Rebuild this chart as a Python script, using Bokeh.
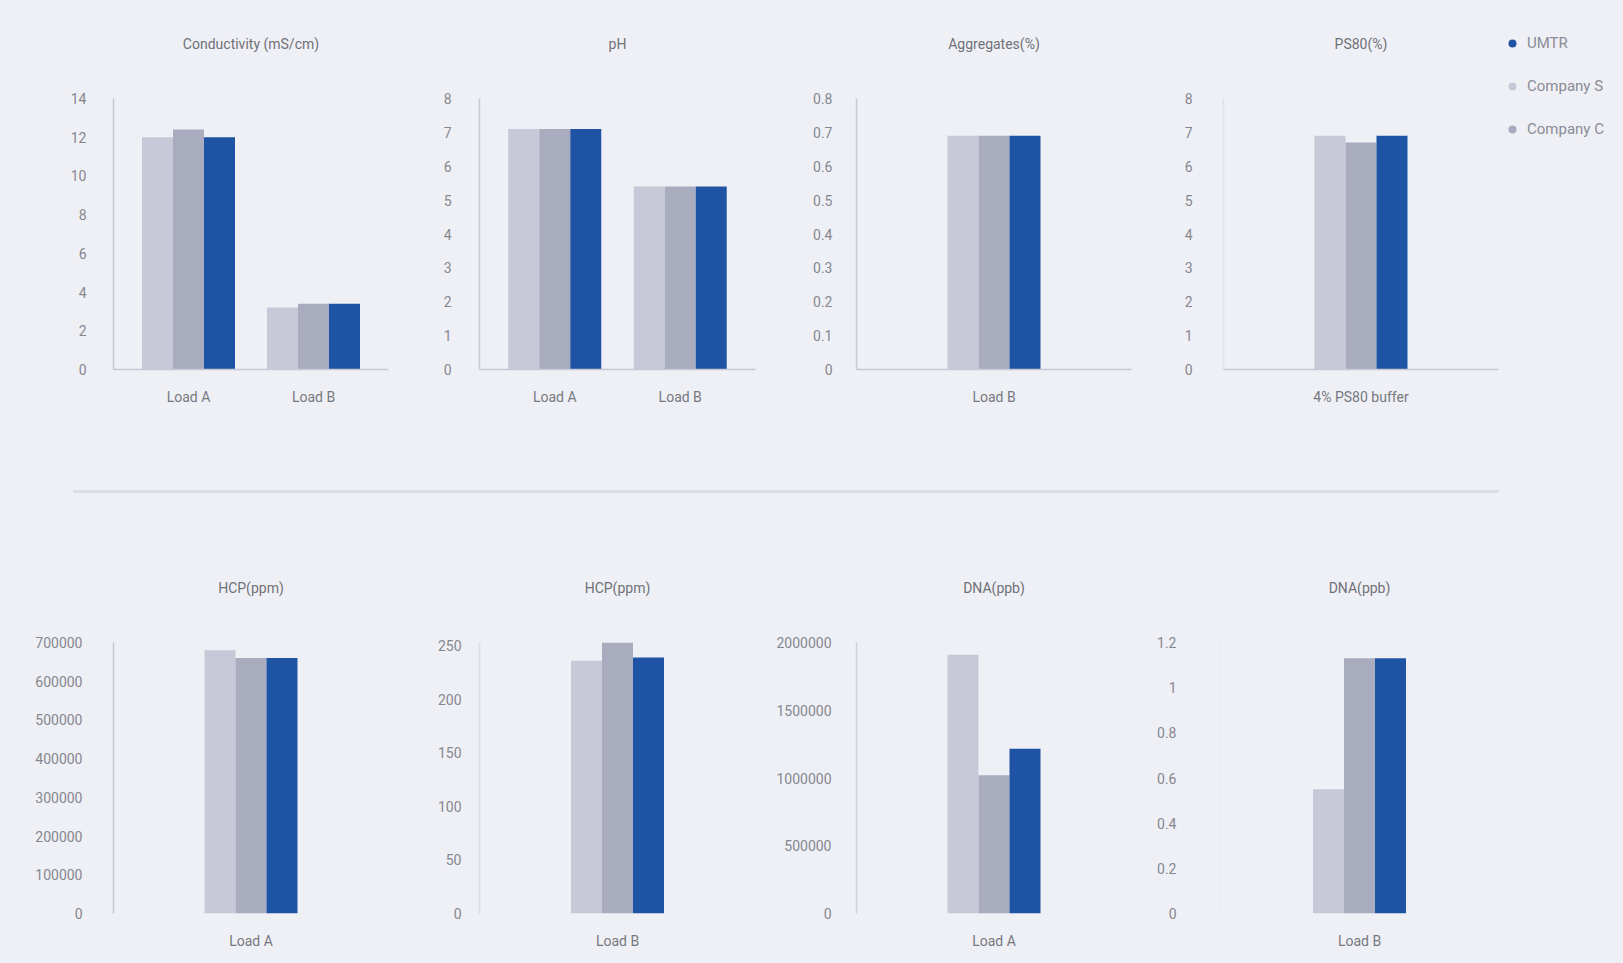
from bokeh.plotting import figure
from bokeh.models import (FactorRange, Range1d, FixedTicker, Legend, LegendItem, Div,
                          LinearAxis, Spacer)
from bokeh.transform import dodge
from bokeh.layouts import row, column
from bokeh.embed import file_html
from bokeh.resources import INLINE

# ---------------- data ----------------
series_names = ["Company S", "Company C", "UMTR"]

cond_title = "Conductivity (mS/cm)"
cond_cats = ["Load A", "Load B"]
cond_s = [12.0, 3.2]
cond_c = [12.4, 3.4]
cond_u = [12.0, 3.4]
cond_ticks = [0, 2, 4, 6, 8, 10, 12, 14]
cond_labels = ["0", "2", "4", "6", "8", "10", "12", "14"]

ph_title = "pH"
ph_cats = ["Load A", "Load B"]
ph_s = [7.1, 5.4]
ph_c = [7.1, 5.4]
ph_u = [7.1, 5.4]
ph_ticks = [0, 1, 2, 3, 4, 5, 6, 7, 8]
ph_labels = ["0", "1", "2", "3", "4", "5", "6", "7", "8"]

agg_title = "Aggregates(%)"
agg_cats = ["Load B"]
agg_s = [0.69]
agg_c = [0.69]
agg_u = [0.69]
agg_ticks = [0, 0.1, 0.2, 0.3, 0.4, 0.5, 0.6, 0.7, 0.8]
agg_labels = ["0", "0.1", "0.2", "0.3", "0.4", "0.5", "0.6", "0.7", "0.8"]

ps80_title = "PS80(%)"
ps80_cats = ["4% PS80 buffer"]
ps80_s = [6.9]
ps80_c = [6.7]
ps80_u = [6.9]
ps80_ticks = [0, 1, 2, 3, 4, 5, 6, 7, 8]
ps80_labels = ["0", "1", "2", "3", "4", "5", "6", "7", "8"]

hcpa_title = "HCP(ppm)"
hcpa_cats = ["Load A"]
hcpa_s = [680000]
hcpa_c = [660000]
hcpa_u = [660000]
hcpa_ticks = [0, 100000, 200000, 300000, 400000, 500000, 600000, 700000]
hcpa_labels = ["0", "100000", "200000", "300000", "400000", "500000", "600000", "700000"]

hcpb_title = "HCP(ppm)"
hcpb_cats = ["Load B"]
hcpb_s = [236]
hcpb_c = [253]
hcpb_u = [239]
hcpb_ticks = [0, 50, 100, 150, 200, 250]
hcpb_labels = ["0", "50", "100", "150", "200", "250"]

dnaa_title = "DNA(ppb)"
dnaa_cats = ["Load A"]
dnaa_s = [1910000]
dnaa_c = [1020000]
dnaa_u = [1215000]
dnaa_ticks = [0, 500000, 1000000, 1500000, 2000000]
dnaa_labels = ["0", "500000", "1000000", "1500000", "2000000"]

dnab_title = "DNA(ppb)"
dnab_cats = ["Load B"]
dnab_s = [0.55]
dnab_c = [1.13]
dnab_u = [1.13]
dnab_ticks = [0, 0.2, 0.4, 0.6, 0.8, 1, 1.2]
dnab_labels = ["0", "0.2", "0.4", "0.6", "0.8", "1", "1.2"]

# ---------------- style ----------------
BG = "#eff0f5"
LIGHT = "#c7c9d8"
MID = "#a9abbf"
BLUE = "#1f54a5"
AXIS = "#c6c8d6"
TXT = "#85878f"
FONT = "Roboto"
BAR_PX = 31.0
PAD = 0.1


def make_chart(title, cats, s_vals, c_vals, u_vals, y_end, ticks, labels,
               width, left, right, height, top, bottom,
               xline=True, yalpha=1.0, ystand=20, tstand=47):
    frame_w = width - left - right
    span = len(cats) * (1 + PAD)
    bw = BAR_PX * span / frame_w
    p = figure(width=width, height=height,
               x_range=FactorRange(*cats, range_padding=PAD),
               y_range=Range1d(0, y_end),
               output_backend="svg", toolbar_location=None,
               min_border_left=left, min_border_right=right,
               min_border_top=top, min_border_bottom=bottom,
               background_fill_color=BG, border_fill_color=BG,
               outline_line_color=None)
    # chart title drawn as the label of a bare axis above the frame
    ta = LinearAxis(ticker=FixedTicker(ticks=[]), axis_label=title,
                    axis_line_color=None, major_tick_line_color=None,
                    minor_tick_line_color=None, major_label_standoff=0,
                    axis_label_standoff=tstand, axis_label_text_font=FONT,
                    axis_label_text_font_size="14px",
                    axis_label_text_font_style="normal",
                    axis_label_text_color="#6f7178")
    p.add_layout(ta, "above")
    data = {"cat": cats, "s": s_vals, "c": c_vals, "u": u_vals}
    for key, off, color in [("s", -bw, LIGHT), ("c", 0.0, MID), ("u", bw, BLUE)]:
        p.vbar(x=dodge("cat", off, range=p.x_range), top=key, width=bw,
               source=data, fill_color=color, line_color=None)
    p.xgrid.grid_line_color = None
    p.ygrid.grid_line_color = None
    ya = p.yaxis[0]
    ya.ticker = FixedTicker(ticks=ticks)
    ya.major_label_overrides = {t: l for t, l in zip(ticks, labels)}
    ya.major_tick_line_color = None
    ya.minor_tick_line_color = None
    ya.axis_line_color = AXIS
    ya.axis_line_alpha = yalpha
    ya.axis_line_width = 1.5
    ya.major_label_standoff = ystand
    ya.major_label_text_font = FONT
    ya.major_label_text_font_size = "14px"
    ya.major_label_text_color = TXT
    xa = p.below[0]
    xa.major_tick_line_color = None
    xa.minor_tick_line_color = None
    xa.axis_line_color = AXIS if xline else None
    xa.axis_line_width = 1.5
    xa.major_label_standoff = 13
    xa.major_label_text_font = FONT
    xa.major_label_text_font_size = "14px"
    xa.major_label_text_color = "#767880"
    return p


TOP_H, T_TOP, T_BOT = 470, 98, 101
BOT_H, B_TOP, B_BOT = 453, 132, 50

p1 = make_chart(cond_title, cond_cats, cond_s, cond_c, cond_u, 14, cond_ticks, cond_labels,
                400, 113, 12, TOP_H, T_TOP, T_BOT, ystand=21)
p2 = make_chart(ph_title, ph_cats, ph_s, ph_c, ph_u, 8, ph_ticks, ph_labels,
                360, 79, 5, TOP_H, T_TOP, T_BOT, ystand=22)
p3 = make_chart(agg_title, agg_cats, agg_s, agg_c, agg_u, 0.8, agg_ticks, agg_labels,
                380, 96, 9, TOP_H, T_TOP, T_BOT, ystand=18)
p4 = make_chart(ps80_title, ps80_cats, ps80_s, ps80_c, ps80_u, 8, ps80_ticks, ps80_labels,
                358, 83, 0, TOP_H, T_TOP, T_BOT, yalpha=0.35, ystand=25)

# legend figure, placed to the right of the PS80 chart
LEG_H = 150
pl = figure(width=125, height=LEG_H,
            x_range=FactorRange(*ps80_cats), y_range=Range1d(0, 8),
            output_backend="svg", toolbar_location=None,
            min_border_left=0, min_border_right=0, min_border_top=0, min_border_bottom=0,
            background_fill_color=BG, border_fill_color=BG, outline_line_color=None)
pl.axis.visible = False
pl.xgrid.grid_line_color = None
pl.ygrid.grid_line_color = None
items = []
for name, color, vals in [("UMTR", BLUE, ps80_u), ("Company S", LIGHT, ps80_s), ("Company C", MID, ps80_c)]:
    r = pl.scatter(x=ps80_cats, y=vals, size=0, marker="circle",
                   fill_color=color, line_color=None)
    items.append(LegendItem(label=name, renderers=[r]))
legend = Legend(items=items, location=(4, 11), orientation="vertical",
                background_fill_alpha=0, border_line_color=None,
                padding=0, margin=0, spacing=23,
                glyph_width=20, glyph_height=20, label_height=20,
                label_standoff=5, label_text_font=FONT,
                label_text_font_size="15px", label_text_color="#8a8c95")
pl.add_layout(legend)
leg_col = column(pl, Spacer(width=125, height=TOP_H - LEG_H, styles={"background-color": BG}),
                 spacing=0)

p5 = make_chart(hcpa_title, hcpa_cats, hcpa_s, hcpa_c, hcpa_u, 700000, hcpa_ticks, hcpa_labels,
                400, 113, 12, BOT_H, B_TOP, B_BOT, xline=False, ystand=25)
p6 = make_chart(hcpb_title, hcpb_cats, hcpb_s, hcpb_c, hcpb_u, 253, hcpb_ticks, hcpb_labels,
                360, 79, 5, BOT_H, B_TOP, B_BOT, xline=False, yalpha=0.45, ystand=12)
p7 = make_chart(dnaa_title, dnaa_cats, dnaa_s, dnaa_c, dnaa_u, 2000000, dnaa_ticks, dnaa_labels,
                380, 96, 9, BOT_H, B_TOP, B_BOT, xline=False, yalpha=0.8, ystand=19)
p8 = make_chart(dnab_title, dnab_cats, dnab_s, dnab_c, dnab_u, 1.2, dnab_ticks, dnab_labels,
                483, 80, 125, BOT_H, B_TOP, B_BOT, xline=False, yalpha=0.12, ystand=38)

sep = Div(text='<div style="margin-left:73px;margin-top:20px;width:1426px;height:3px;'
               'background:#dcdde3;"></div>',
          width=1623, height=40, margin=0, styles={"background-color": BG})

top_row = row(p1, p2, p3, p4, leg_col, spacing=0)
bot_row = row(p5, p6, p7, p8, spacing=0)
layout = column(top_row, sep, bot_row, spacing=0)

html = file_html(layout, INLINE, title="Comparison charts")
html = html.replace("</head>",
                    "<style>html, body { background: %s !important; margin: 0; }</style></head>" % BG, 1)
open("out.html", "w").write(html)
